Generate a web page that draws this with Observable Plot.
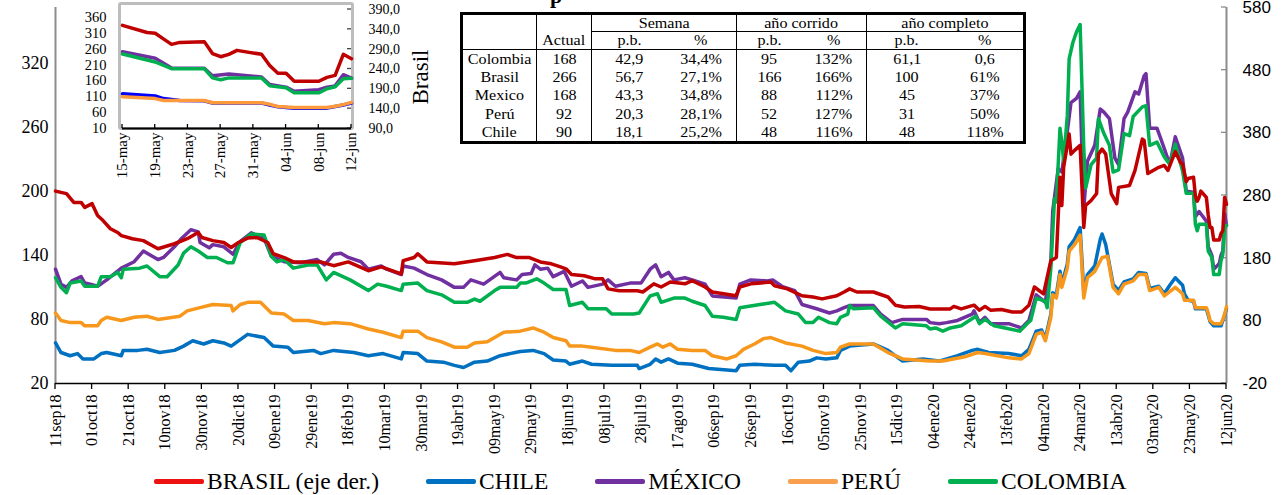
<!DOCTYPE html>
<html>
<head>
<meta charset="utf-8">
<script src="https://cdn.jsdelivr.net/npm/d3@7"></script>
<script src="https://cdn.jsdelivr.net/npm/@observablehq/plot@0.6"></script>
<style>
html,body{margin:0;padding:0;background:#fff;}
#root{position:relative;width:1281px;height:495px;overflow:hidden;font-family:"Liberation Serif","Times New Roman",serif;color:#000;}
#main,#inset{position:absolute;left:0;top:0;}
#insetFrame{position:absolute;left:118px;top:2px;width:236px;height:128px;box-sizing:border-box;border:3.5px solid #bdbdbd;border-radius:3px;background:#fff;}
#tbl{position:absolute;left:460px;top:12px;width:563px;height:129px;border-collapse:collapse;border:3px solid #000;table-layout:fixed;font-family:"Liberation Serif",serif;font-size:14px;background:#fff;}
#tbl td{padding:0;text-align:center;line-height:15px;white-space:nowrap;overflow:visible;}
#tbl td span{display:inline-block;transform:scaleX(1.15);}
#tbl .vr{border-right:1px solid #000;}
#tbl .bb{border-bottom:1px solid #000;}
#tbl tr.h2 td{border-bottom:1.5px solid #000;}
#legend{position:absolute;left:154px;top:469px;height:24px;display:flex;align-items:center;gap:47px;font-family:"Liberation Serif",serif;font-size:23.5px;}
#legend .item{display:flex;align-items:center;}
#legend .sw{width:50px;height:5px;border-radius:2px;margin-right:3px;}
#frag{position:absolute;left:550px;top:-15px;font-size:22px;line-height:22px;font-weight:bold;font-family:"Liberation Serif",serif;}
</style>
</head>
<body>
<div id="root">
  <div id="main"></div>
  <div id="insetFrame"></div>
  <div id="inset"></div>
  <div id="frag">p</div>
  <table id="tbl"></table>
  <div id="legend"></div>
</div>
<script>
// ---------------- DATA ----------------
const tickLabels = ["11sep18","01oct18","21oct18","10nov18","30nov18","20dic18","09ene19","29ene19","18feb19","10mar19","30mar19","19abr19","09may19","29may19","18jun19","08jul19","28jul19","17ago19","06sep19","26sep19","16oct19","05nov19","25nov19","15dic19","04ene20","24ene20","13feb20","04mar20","24mar20","13abr20","03may20","23may20","12jun20"];
const insetTickLabels = ["15-may","19-may","23-may","27-may","31-may","04-jun","08-jun","12-jun"];
const leftTicks = [20,80,140,200,260,320];
const rightTicks = [-20,80,180,280,380,480,580];
const insetLeftTicks = [10,60,110,160,210,260,310,360];
const insetRightTicks = [90,140,190,240,290,340,390];

const brasil = [["2018-09-11",287],["2018-09-17",283],["2018-09-21",269],["2018-09-25",269],["2018-09-27",261],["2018-10-01",267],["2018-10-04",248],["2018-10-07",240],["2018-10-11",227],["2018-10-15",221],["2018-10-17",216],["2018-10-23",211],["2018-10-29",208],["2018-11-06",195],["2018-11-15",203],["2018-11-22",211],["2018-11-28",221],["2018-11-30",213],["2018-12-06",208],["2018-12-12",205],["2018-12-16",197],["2018-12-20",205],["2018-12-25",212],["2018-12-30",213],["2019-01-05",205],["2019-01-08",187],["2019-01-14",181],["2019-01-19",174],["2019-02-03",174],["2019-02-10",168],["2019-02-18",174],["2019-03-01",160],["2019-03-08",166],["2019-03-19",155],["2019-03-20",176],["2019-03-26",181],["2019-03-28",187],["2019-04-02",174],["2019-04-17",171],["2019-04-28",176],["2019-05-09",181],["2019-05-16",186],["2019-05-21",181],["2019-05-28",181],["2019-06-03",174],["2019-06-09",171],["2019-06-14",166],["2019-06-17",163],["2019-06-20",154],["2019-06-27",152],["2019-07-03",147],["2019-07-07",147],["2019-07-10",131],["2019-07-16",128],["2019-07-26",128],["2019-07-29",126],["2019-08-04",139],["2019-08-08",134],["2019-08-13",142],["2019-08-21",139],["2019-08-25",144],["2019-09-01",134],["2019-09-05",126],["2019-09-18",120],["2019-09-20",134],["2019-09-26",139],["2019-10-07",142],["2019-10-09",136],["2019-10-16",131],["2019-10-24",120],["2019-10-30",118],["2019-11-04",115],["2019-11-12",120],["2019-11-16",126],["2019-11-19",131],["2019-11-23",126],["2019-12-02",126],["2019-12-10",118],["2019-12-14",105],["2019-12-19",102],["2019-12-27",103],["2020-01-02",99],["2020-01-13",99],["2020-01-15",103],["2020-01-19",99],["2020-01-26",105],["2020-01-29",97],["2020-02-01",103],["2020-02-04",97],["2020-02-10",98],["2020-02-16",94],["2020-02-21",94],["2020-02-25",105],["2020-02-28",134],["2020-03-04",123],["2020-03-08",176],["2020-03-11",181],["2020-03-13",309],["2020-03-14",264],["2020-03-15",325],["2020-03-18",378],["2020-03-19",346],["2020-03-21",352],["2020-03-24",360],["2020-03-26",229],["2020-03-27",264],["2020-03-30",272],["2020-04-02",283],["2020-04-03",346],["2020-04-05",354],["2020-04-07",346],["2020-04-10",283],["2020-04-13",267],["2020-04-14",293],["2020-04-20",296],["2020-04-23",320],["2020-04-27",370],["2020-04-28",368],["2020-04-30",315],["2020-05-06",325],["2020-05-09",328],["2020-05-11",320],["2020-05-15",350],["2020-05-18",332],["2020-05-19",330],["2020-05-20",316],["2020-05-21",302],["2020-05-22",307],["2020-05-25",309],["2020-05-26",279],["2020-05-27",271],["2020-05-28",277],["2020-05-29",287],["2020-06-01",277],["2020-06-02",249],["2020-06-03",229],["2020-06-04",229],["2020-06-05",209],["2020-06-08",209],["2020-06-09",219],["2020-06-10",224],["2020-06-11",277],["2020-06-12",266]];

const chile = [["2018-09-11",58],["2018-09-14",49],["2018-09-19",46],["2018-09-23",48],["2018-09-26",43],["2018-10-02",43],["2018-10-06",48],["2018-10-09",49],["2018-10-17",46],["2018-10-18",51],["2018-10-26",51],["2018-10-31",52],["2018-11-07",49],["2018-11-15",51],["2018-11-20",55],["2018-11-25",60],["2018-12-01",57],["2018-12-06",60],["2018-12-12",58],["2018-12-16",55],["2018-12-25",66],["2019-01-03",63],["2019-01-08",55],["2019-01-16",54],["2019-01-19",49],["2019-01-30",51],["2019-02-03",48],["2019-02-10",51],["2019-02-21",49],["2019-03-01",46],["2019-03-09",48],["2019-03-19",43],["2019-03-20",49],["2019-03-28",48],["2019-04-02",41],["2019-04-11",40],["2019-04-17",37],["2019-04-22",35],["2019-04-28",40],["2019-05-05",41],["2019-05-12",46],["2019-05-23",50],["2019-05-30",51],["2019-06-05",48],["2019-06-10",42],["2019-06-17",41],["2019-06-19",38],["2019-06-26",41],["2019-07-01",38],["2019-07-12",37],["2019-07-26",37],["2019-07-27",34],["2019-08-02",38],["2019-08-05",43],["2019-08-08",40],["2019-08-12",43],["2019-08-17",39],["2019-08-25",38],["2019-09-03",34],["2019-09-18",32],["2019-09-20",37],["2019-09-28",38],["2019-10-09",37],["2019-10-15",37],["2019-10-18",32],["2019-10-22",40],["2019-10-28",41],["2019-11-01",44],["2019-11-06",43],["2019-11-12",44],["2019-11-14",51],["2019-11-19",55],["2019-12-02",57],["2019-12-10",51],["2019-12-18",41],["2019-12-29",43],["2020-01-07",41],["2020-01-17",46],["2020-01-25",51],["2020-01-28",52],["2020-02-03",49],["2020-02-14",48],["2020-02-21",46],["2020-02-25",52],["2020-02-29",69],["2020-03-03",70],["2020-03-05",62],["2020-03-08",85],["2020-03-09",105],["2020-03-11",103],["2020-03-13",125],["2020-03-14",113],["2020-03-17",132],["2020-03-18",148],["2020-03-21",155],["2020-03-24",166],["2020-03-26",105],["2020-03-28",122],["2020-04-01",130],["2020-04-04",155],["2020-04-05",160],["2020-04-07",150],["2020-04-11",113],["2020-04-14",107],["2020-04-17",115],["2020-04-22",118],["2020-04-25",124],["2020-04-29",123],["2020-05-01",109],["2020-05-06",111],["2020-05-09",104],["2020-05-12",112],["2020-05-15",119],["2020-05-19",112],["2020-05-20",104],["2020-05-22",98],["2020-05-25",97],["2020-05-26",90],["2020-06-01",90],["2020-06-02",84],["2020-06-03",78],["2020-06-05",74],["2020-06-09",74],["2020-06-10",79],["2020-06-11",84],["2020-06-12",90]];

const mexico = [["2018-09-11",127],["2018-09-14",113],["2018-09-17",110],["2018-09-20",116],["2018-09-25",120],["2018-09-27",114],["2018-09-30",113],["2018-10-04",111],["2018-10-09",117],["2018-10-17",128],["2018-10-24",134],["2018-10-29",144],["2018-11-06",136],["2018-11-09",138],["2018-11-15",148],["2018-11-19",156],["2018-11-24",164],["2018-11-28",162],["2018-11-29",152],["2018-12-04",147],["2018-12-06",150],["2018-12-12",148],["2018-12-17",141],["2018-12-21",153],["2018-12-27",161],["2019-01-03",156],["2019-01-07",139],["2019-01-14",134],["2019-01-23",133],["2019-02-01",136],["2019-02-05",131],["2019-02-10",141],["2019-02-14",142],["2019-02-18",138],["2019-02-25",134],["2019-03-01",127],["2019-03-08",130],["2019-03-11",127],["2019-03-19",122],["2019-03-20",130],["2019-03-26",128],["2019-04-02",122],["2019-04-10",117],["2019-04-17",110],["2019-04-22",110],["2019-04-26",117],["2019-05-03",113],["2019-05-12",124],["2019-05-14",119],["2019-05-21",117],["2019-05-24",122],["2019-05-29",123],["2019-05-31",131],["2019-06-03",127],["2019-06-07",128],["2019-06-10",120],["2019-06-16",125],["2019-06-20",111],["2019-06-26",116],["2019-06-29",110],["2019-07-07",113],["2019-07-10",117],["2019-07-14",111],["2019-07-22",114],["2019-07-28",114],["2019-08-02",127],["2019-08-05",131],["2019-08-08",120],["2019-08-12",124],["2019-08-15",117],["2019-08-21",119],["2019-08-25",117],["2019-09-01",113],["2019-09-05",102],["2019-09-18",100],["2019-09-20",113],["2019-09-26",117],["2019-10-05",116],["2019-10-08",117],["2019-10-13",111],["2019-10-20",107],["2019-10-24",94],["2019-11-01",90],["2019-11-08",86],["2019-11-12",88],["2019-11-16",91],["2019-11-19",93],["2019-12-02",93],["2019-12-06",85],["2019-12-12",77],["2019-12-18",80],["2019-12-31",80],["2020-01-02",77],["2020-01-07",76],["2020-01-11",77],["2020-01-17",79],["2020-01-25",85],["2020-01-26",88],["2020-01-29",77],["2020-02-01",82],["2020-02-04",76],["2020-02-14",76],["2020-02-21",72],["2020-02-25",79],["2020-02-29",103],["2020-03-05",96],["2020-03-08",134],["2020-03-09",181],["2020-03-12",221],["2020-03-14",218],["2020-03-17",256],["2020-03-19",283],["2020-03-22",287],["2020-03-24",293],["2020-03-26",184],["2020-03-28",228],["2020-04-01",243],["2020-04-04",277],["2020-04-06",274],["2020-04-09",268],["2020-04-12",231],["2020-04-14",225],["2020-04-17",268],["2020-04-19",274],["2020-04-23",293],["2020-04-25",291],["2020-04-28",308],["2020-04-29",310],["2020-05-01",259],["2020-05-05",259],["2020-05-09",240],["2020-05-12",225],["2020-05-15",251],["2020-05-19",231],["2020-05-21",200],["2020-05-25",199],["2020-05-26",176],["2020-05-28",181],["2020-06-01",172],["2020-06-02",148],["2020-06-04",140],["2020-06-05",127],["2020-06-08",132],["2020-06-09",140],["2020-06-10",144],["2020-06-11",179],["2020-06-12",168]];

const peru = [["2018-09-11",86],["2018-09-14",79],["2018-09-19",77],["2018-09-25",77],["2018-09-27",74],["2018-10-04",74],["2018-10-06",79],["2018-10-09",82],["2018-10-17",79],["2018-10-24",82],["2018-10-31",83],["2018-11-06",80],["2018-11-18",83],["2018-11-22",88],["2018-11-29",91],["2018-12-06",94],["2018-12-16",93],["2018-12-17",88],["2018-12-21",94],["2018-12-25",96],["2019-01-01",96],["2019-01-07",86],["2019-01-14",85],["2019-01-19",79],["2019-01-27",79],["2019-02-05",76],["2019-02-10",77],["2019-02-19",76],["2019-03-01",71],["2019-03-09",68],["2019-03-19",63],["2019-03-20",69],["2019-03-28",69],["2019-04-02",63],["2019-04-10",59],["2019-04-17",54],["2019-04-24",54],["2019-04-28",58],["2019-05-05",59],["2019-05-09",63],["2019-05-14",68],["2019-05-23",69],["2019-05-30",72],["2019-06-05",68],["2019-06-10",63],["2019-06-17",60],["2019-06-19",55],["2019-06-26",55],["2019-07-01",54],["2019-07-14",51],["2019-07-22",51],["2019-07-27",49],["2019-08-02",54],["2019-08-06",57],["2019-08-09",54],["2019-08-13",57],["2019-08-17",52],["2019-08-25",51],["2019-09-01",51],["2019-09-05",46],["2019-09-13",43],["2019-09-18",46],["2019-09-22",52],["2019-09-28",57],["2019-10-03",62],["2019-10-07",63],["2019-10-15",58],["2019-10-24",55],["2019-10-30",51],["2019-11-06",48],["2019-11-12",49],["2019-11-14",54],["2019-11-19",57],["2019-12-02",57],["2019-12-10",49],["2019-12-18",43],["2020-01-02",41],["2020-01-09",41],["2020-01-21",45],["2020-01-28",49],["2020-02-01",48],["2020-02-14",44],["2020-02-21",43],["2020-02-25",48],["2020-02-29",66],["2020-03-03",68],["2020-03-05",60],["2020-03-08",82],["2020-03-09",103],["2020-03-11",100],["2020-03-13",122],["2020-03-14",110],["2020-03-17",128],["2020-03-18",144],["2020-03-21",150],["2020-03-24",159],["2020-03-26",100],["2020-03-28",119],["2020-04-01",125],["2020-04-05",138],["2020-04-08",139],["2020-04-11",110],["2020-04-14",104],["2020-04-17",113],["2020-04-22",116],["2020-04-25",122],["2020-04-29",122],["2020-05-01",107],["2020-05-06",110],["2020-05-09",102],["2020-05-15",110],["2020-05-19",104],["2020-05-20",98],["2020-05-25",98],["2020-05-26",91],["2020-06-01",91],["2020-06-02",86],["2020-06-03",79],["2020-06-05",76],["2020-06-09",76],["2020-06-10",80],["2020-06-11",85],["2020-06-12",92]];

const colombia = [["2018-09-11",119],["2018-09-14",110],["2018-09-17",105],["2018-09-19",114],["2018-09-25",116],["2018-09-27",111],["2018-10-04",111],["2018-10-06",120],["2018-10-11",120],["2018-10-15",124],["2018-10-17",119],["2018-10-18",127],["2018-10-27",128],["2018-10-31",130],["2018-11-07",120],["2018-11-11",120],["2018-11-17",131],["2018-11-20",142],["2018-11-24",148],["2018-11-28",144],["2018-12-03",138],["2018-12-08",138],["2018-12-14",133],["2018-12-17",133],["2018-12-21",152],["2018-12-27",160],["2019-01-03",159],["2019-01-07",139],["2019-01-10",134],["2019-01-14",136],["2019-01-19",128],["2019-01-27",131],["2019-02-01",131],["2019-02-06",117],["2019-02-10",124],["2019-02-19",117],["2019-03-01",107],["2019-03-06",113],["2019-03-11",111],["2019-03-19",107],["2019-03-20",113],["2019-03-28",114],["2019-04-02",107],["2019-04-10",103],["2019-04-17",96],["2019-04-24",96],["2019-04-28",99],["2019-05-01",97],["2019-05-09",107],["2019-05-12",110],["2019-05-21",110],["2019-05-23",114],["2019-05-26",114],["2019-06-01",118],["2019-06-05",114],["2019-06-10",108],["2019-06-17",108],["2019-06-19",93],["2019-06-26",96],["2019-06-29",90],["2019-07-09",90],["2019-07-12",85],["2019-07-24",85],["2019-07-27",86],["2019-08-02",102],["2019-08-06",104],["2019-08-08",96],["2019-08-15",100],["2019-08-21",100],["2019-08-25",97],["2019-09-01",93],["2019-09-05",83],["2019-09-11",82],["2019-09-18",80],["2019-09-20",91],["2019-10-01",94],["2019-10-09",96],["2019-10-15",88],["2019-10-22",85],["2019-10-26",77],["2019-10-30",77],["2019-11-02",82],["2019-11-08",77],["2019-11-12",76],["2019-11-14",82],["2019-11-18",85],["2019-11-19",93],["2019-11-21",90],["2019-12-02",91],["2019-12-06",83],["2019-12-14",72],["2019-12-18",76],["2019-12-31",74],["2020-01-02",71],["2020-01-05",72],["2020-01-09",69],["2020-01-13",72],["2020-01-19",74],["2020-01-27",83],["2020-01-29",76],["2020-02-01",80],["2020-02-06",74],["2020-02-12",72],["2020-02-20",69],["2020-02-24",76],["2020-02-26",79],["2020-02-29",100],["2020-03-05",97],["2020-03-06",91],["2020-03-08",128],["2020-03-10",193],["2020-03-11",190],["2020-03-13",259],["2020-03-14",246],["2020-03-15",228],["2020-03-17",271],["2020-03-18",324],["2020-03-20",339],["2020-03-22",349],["2020-03-24",356],["2020-03-26",240],["2020-03-27",203],["2020-03-30",225],["2020-04-02",231],["2020-04-03",268],["2020-04-06",254],["2020-04-09",243],["2020-04-11",218],["2020-04-14",220],["2020-04-17",254],["2020-04-20",252],["2020-04-22",270],["2020-04-27",279],["2020-04-29",280],["2020-05-01",243],["2020-05-05",246],["2020-05-09",232],["2020-05-12",225],["2020-05-15",244],["2020-05-19",219],["2020-05-21",198],["2020-05-25",198],["2020-05-26",169],["2020-05-27",163],["2020-05-28",169],["2020-06-01",169],["2020-06-02",144],["2020-06-04",138],["2020-06-05",122],["2020-06-08",122],["2020-06-09",135],["2020-06-10",141],["2020-06-11",166],["2020-06-12",168]];

const legendLabels = ["BRASIL (eje der.)","CHILE","MÉXICO","PERÚ","COLOMBIA"];
const tableHeader1 = [["",1],["",1],["Semana",2],["año corrido",2],["año completo",2]];
const tableHeader2 = ["","Actual","p.b.","%","p.b.","%","p.b.","%"];
const tableRows = [
  ["Colombia","168","42,9","34,4%","95","132%","61,1","0,6"],
  ["Brasil","266","56,7","27,1%","166","166%","100","61%"],
  ["Mexico","168","43,3","34,8%","88","112%","45","37%"],
  ["Perú","92","20,3","28,1%","52","127%","31","50%"],
  ["Chile","90","18,1","25,2%","48","116%","48","118%"]
];

// ---------------- HELPERS ----------------
const monthIdx = {ene:0,feb:1,mar:2,abr:3,may:4,jun:5,jul:6,ago:7,sep:8,oct:9,nov:10,dic:11};
const parseMain = s => new Date(Date.UTC(2000 + +s.slice(5), monthIdx[s.slice(2,5)], +s.slice(0,2)));
const parseInset = s => new Date(Date.UTC(2020, monthIdx[s.slice(3)], +s.slice(0,2)));
const rows = arr => arr.map(([d, v]) => ({date: new Date(d), value: v}));

const tickDates = tickLabels.map(parseMain);
const labelByTime = new Map(tickDates.map((d, i) => [+d, tickLabels[i]]));
const insetTickDates = insetTickLabels.map(parseInset);
const insetLabelByTime = new Map(insetTickDates.map((d, i) => [+d, insetTickLabels[i]]));

const xDomain = [tickDates[0], tickDates[tickDates.length - 1]];
const leftDomain = [20, 372];
const rightDomain = [-20, 580];
const k = (leftDomain[1] - leftDomain[0]) / (rightDomain[1] - rightDomain[0]);
const toLeft = v => leftDomain[0] + (v - rightDomain[0]) * k;
const fromLeft = v => rightDomain[0] + (v - leftDomain[0]) / k;

const insetXDomain = [insetTickDates[0], insetTickDates[insetTickDates.length - 1]];
const insetLeftDomain = [10, 384];
const insetRightDomain = [90, 390];
const ki = (insetLeftDomain[1] - insetLeftDomain[0]) / (insetRightDomain[1] - insetRightDomain[0]);
const toLeftI = v => insetLeftDomain[0] + (v - insetRightDomain[0]) * ki;
const fromLeftI = v => insetRightDomain[0] + (v - insetLeftDomain[0]) / ki;

const brasilRows = rows(brasil).map(d => ({date: d.date, value: toLeft(d.value)}));
const mainSeries = [
  {rows: rows(chile), color: "#0070C0"},
  {rows: rows(mexico), color: "#7030A0"},
  {rows: rows(peru), color: "#F7981D"},
  {rows: rows(colombia), color: "#00B050"},
  {rows: brasilRows, color: "#C00000"}
];

function rightTickMark(ticks, map, color, len) {
  return (index, scales, values, dim) => {
    const g = d3.create("svg:g").attr("stroke", color).attr("stroke-width", 1.3);
    const xr = dim.width - dim.marginRight;
    for (const t of ticks) {
      const yy = scales.y(map(t));
      g.append("line").attr("x1", xr - len).attr("x2", xr).attr("y1", yy).attr("y2", yy);
    }
    return g.node();
  };
}
function bottomTickMark(ticks, color, len, dir) {
  return (index, scales, values, dim) => {
    const g = d3.create("svg:g").attr("stroke", color).attr("stroke-width", 1.3);
    const yb = dim.height - dim.marginBottom;
    for (const t of ticks) {
      const xx = scales.x(t);
      g.append("line").attr("x1", xx).attr("x2", xx).attr("y1", yb).attr("y2", yb + dir * len);
    }
    return g.node();
  };
}

// ---------------- MAIN CHART ----------------
const main = Plot.plot({
  width: 1281, height: 460,
  marginLeft: 55, marginRight: 55, marginTop: 7, marginBottom: 77,
  style: {background: "transparent", fontFamily: "Liberation Serif, serif", color: "#000", overflow: "visible"},
  x: {type: "utc", domain: xDomain, label: null},
  y: {domain: leftDomain, label: null},
  marks: [
    Plot.ruleX([xDomain[0]], {y1: leftDomain[0], y2: leftDomain[1], stroke: "#8c8c8c", strokeWidth: 2}),
    Plot.ruleX([xDomain[1]], {y1: leftDomain[0], y2: leftDomain[1], stroke: "#8c8c8c", strokeWidth: 2}),
    rightTickMark(rightTicks, toLeft, "#8c8c8c", 5),
    Plot.axisY({anchor: "left", label: null, ticks: leftTicks, tickSize: 0, tickPadding: 7, fontSize: 18, fontFamily: "Liberation Serif, serif"}),
    Plot.axisY({anchor: "right", label: null, ticks: rightTicks.map(toLeft), tickFormat: v => String(Math.round(fromLeft(v))), tickSize: 0, tickPadding: 16, fontSize: 17, fontFamily: "Liberation Sans, Arial, sans-serif"}),
    Plot.axisX({label: null, ticks: tickDates, tickFormat: d => labelByTime.get(+d), tickRotate: -90, tickSize: 0, tickPadding: 11, fontSize: 16, fontFamily: "Liberation Serif, serif"}),
    bottomTickMark(tickDates, "#000", 6, 1),
    ...mainSeries.map(s => Plot.line(s.rows, {x: "date", y: "value", stroke: s.color, strokeWidth: 3.5, strokeLinejoin: "round", strokeLinecap: "round"})),
    Plot.ruleY([leftDomain[0]], {stroke: "#000", strokeWidth: 1.5})
  ]
});
document.getElementById("main").appendChild(main);

// ---------------- INSET ----------------
const start = insetXDomain[0];
const sub = arr => rows(arr).filter(d => d.date >= start);
const insetSeries = [
  {rows: sub(chile), color: "#0000FF"},
  {rows: sub(mexico), color: "#7030A0"},
  {rows: sub(peru), color: "#FF9A3C"},
  {rows: sub(colombia), color: "#00B050"},
  {rows: sub(brasil).map(d => ({date: d.date, value: toLeftI(d.value)})), color: "#C00000"}
];
const fmtComma = v => (Math.round(v * 10) / 10).toFixed(1).replace(".", ",");
const inset = Plot.plot({
  width: 440, height: 180,
  marginLeft: 122, marginRight: 89, marginTop: 9, marginBottom: 52,
  style: {background: "transparent", fontFamily: "Liberation Serif, serif", color: "#000", overflow: "visible"},
  x: {type: "utc", domain: insetXDomain, label: null},
  y: {domain: insetLeftDomain, label: null},
  marks: [
    Plot.axisY({anchor: "left", label: null, ticks: insetLeftTicks, tickSize: 0, tickPadding: 16, fontSize: 14.5, fontFamily: "Liberation Serif, serif"}),
    Plot.axisY({anchor: "right", label: null, ticks: insetRightTicks.map(toLeftI), tickFormat: v => fmtComma(fromLeftI(v)), tickSize: 0, tickPadding: 17, fontSize: 14, fontFamily: "Liberation Serif, serif"}),
    rightTickMark(insetRightTicks, toLeftI, "#444", 4),
    Plot.axisX({label: null, ticks: insetTickDates, tickFormat: d => insetLabelByTime.get(+d), tickRotate: -90, tickSize: 0, tickPadding: 4, fontSize: 15, fontFamily: "Liberation Serif, serif"}),
    ...insetSeries.map(s => Plot.line(s.rows, {x: "date", y: "value", stroke: s.color, strokeWidth: 3.5, strokeLinejoin: "round"})),
    Plot.ruleY([insetLeftDomain[0]], {stroke: "#000", strokeWidth: 2}),
    bottomTickMark(insetTickDates, "#000", 4, -1),
    Plot.text(["Brasil"], {frameAnchor: "right", dx: 69, dy: 8, rotate: -90, textAnchor: "middle", fontSize: 23, fontFamily: "Liberation Serif, serif"})
  ]
});
document.getElementById("inset").appendChild(inset);

// ---------------- TABLE ----------------
const tbl = document.getElementById("tbl");
const colW = [75, 55, 75, 70, 65, 65, 80, 78];
const cg = document.createElement("colgroup");
colW.forEach(w => { const c = document.createElement("col"); c.style.width = w + "px"; cg.appendChild(c); });
tbl.appendChild(cg);
const vrCols = new Set([0, 1, 3, 5]);
const span = t => `<span>${t}</span>`;
let h1 = '<tr class="h1" style="height:18px">';
let ci = 0;
tableHeader1.forEach(([t, n], j) => {
  const last = ci + n - 1;
  const cls = [];
  if (vrCols.has(last)) cls.push("vr");
  if (j >= 2) cls.push("bb");
  h1 += `<td colspan="${n}" class="${cls.join(" ")}">${span(t)}</td>`;
  ci += n;
});
h1 += "</tr>";
let h2 = '<tr class="h2" style="height:18px">' + tableHeader2.map((t, j) => `<td class="${vrCols.has(j) ? "vr" : ""}">${span(t)}</td>`).join("") + "</tr>";
let body = tableRows.map(r => '<tr style="height:18.5px">' + r.map((t, j) => `<td class="${vrCols.has(j) ? "vr" : ""}">${span(t)}</td>`).join("") + "</tr>").join("");
tbl.insertAdjacentHTML("beforeend", h1 + h2 + body);

// ---------------- LEGEND ----------------
const legendColors = ["#EE1111", "#0070C0", "#7030A0", "#F9A04E", "#00B050"];
const lg = document.getElementById("legend");
legendLabels.forEach((t, i) => {
  lg.insertAdjacentHTML("beforeend", `<div class="item"><div class="sw" style="background:${legendColors[i]}"></div><div>${t}</div></div>`);
});
</script>
</body>
</html>
